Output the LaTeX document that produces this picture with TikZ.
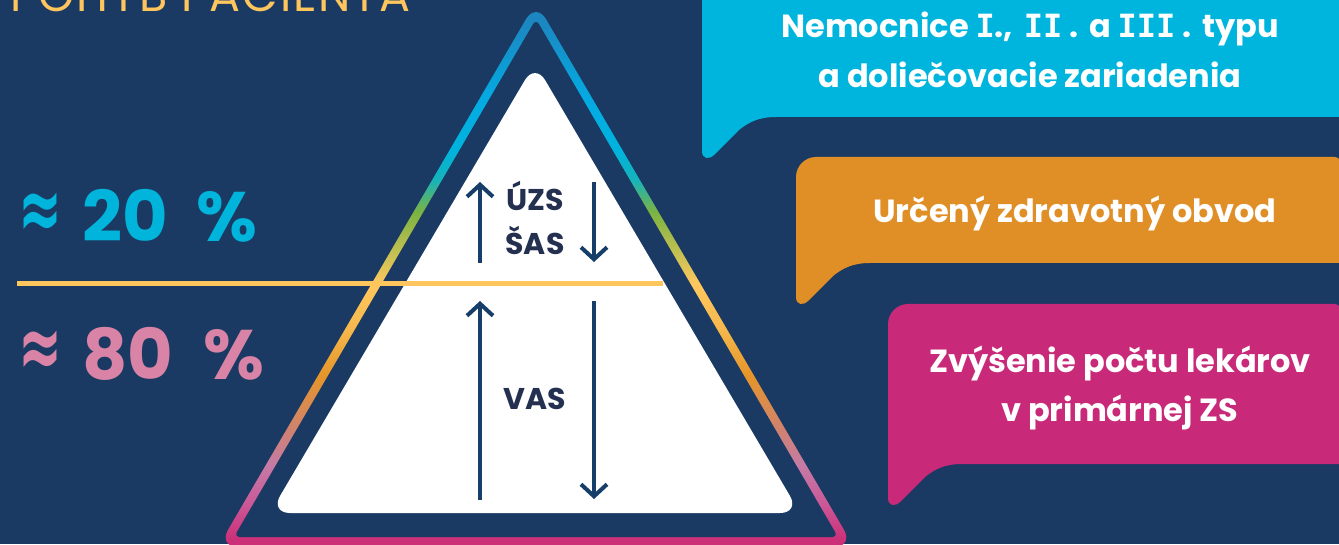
\documentclass[tikz,border=0pt]{standalone}
\usepackage{fontspec}
\usetikzlibrary{arrows.meta}
\newfontfamily\pop{Poppins}
\newfontfamily\popwide{Poppins}[LetterSpace=4]
\newfontfamily\djv{DejaVu Sans}
\newfontfamily\djm{DejaVu Sans Mono}
\definecolor{bg}{HTML}{1B3A63}
\definecolor{cyanb}{HTML}{00B5DD}
\definecolor{orangeb}{HTML}{E08F26}
\definecolor{magb}{HTML}{C82A79}
\definecolor{yline}{HTML}{FFC65E}
\definecolor{cyantxt}{HTML}{00B4DB}
\definecolor{pinktxt}{HTML}{D984A6}
\definecolor{pyrtxt}{HTML}{243050}
\definecolor{arrowc}{HTML}{173D69}
\definecolor{gm}{HTML}{CB3078}
\definecolor{gpk}{HTML}{CA5C9A}
\definecolor{gmv}{HTML}{C57BA5}
\definecolor{gsa}{HTML}{D08270}
\definecolor{gor}{HTML}{E5952A}
\definecolor{glo}{HTML}{F5B84C}
\definecolor{gye}{HTML}{FFC85F}
\definecolor{gol}{HTML}{B5BE4F}
\definecolor{ggr}{HTML}{7CB342}
\definecolor{gte}{HTML}{16B3BA}
\definecolor{gcy}{HTML}{00B3DD}
\definecolor{gcb}{HTML}{04ABE3}
\definecolor{gbl}{HTML}{1C86C0}
\pgfdeclareverticalshading{trigrad}{100bp}{color(0bp)=(gm); color(25.4bp)=(gm); color(29bp)=(gpk); color(32.3bp)=(gmv); color(35.5bp)=(gsa); color(40.5bp)=(gor); color(44.7bp)=(glo); color(48.9bp)=(gye); color(52.5bp)=(gol); color(55.5bp)=(ggr); color(58.5bp)=(gte); color(61.2bp)=(gcy); color(65.8bp)=(gcb); color(73.2bp)=(gbl); color(100bp)=(gbl)}
\newcommand\slabI{{\djm\bfseries I}}
\newcommand\apx{\raisebox{2pt}{\scalebox{1.05}[1.8]{\djv\bfseries\fontsize{50}{50}\selectfont ≈}}}
\newcommand\bubblepath[4]{% x0, bottom, top, colour
  \fill[#4] (1340,#2) -- ({#1+74},#2) .. controls ({#1+57},#2) and ({#1+47},{#2-5}) .. ({#1+37},{#2-13})
   -- ({#1+12},{#2-38}) .. controls ({#1+7},{#2-43}) and (#1,{#2-42}) .. (#1,{#2-34})
   -- (#1,{#3-20}) .. controls (#1,{#3-9}) and ({#1+9},#3) .. ({#1+20},#3)
   -- (1334,#3) .. controls (1338,#3) and (1340,{#3-2}) .. (1340,{#3-6}) -- cycle;}
\tikzset{
  bubtxt/.style={anchor=base, text=white, font=\pop\bfseries\fontsize{32}{40}\selectfont, inner sep=0pt},
  pyrtext/.style={anchor=base, text=pyrtxt, font=\pop\bfseries\fontsize{30}{34}\selectfont, inner sep=0pt},
  pct/.style={anchor=base west, font=\pop\bfseries\fontsize{70}{80}\selectfont, inner sep=0pt},
  parrow/.style={draw=arrowc, line width=4pt, -{Straight Barb[length=12pt, width=26pt]}}
}
\begin{document}
\begin{tikzpicture}[x=1pt,y=1pt]
\useasboundingbox (0,0) rectangle (1339,544);
\clip (0,0) rectangle (1339,544);
\fill[bg] (0,0) rectangle (1339,544);
% title
\node[anchor=base west, inner sep=0pt, text=yline, font=\popwide\fontsize{46}{50}\selectfont] (title) at (10,532) {POHYB PACIENTA};
% bubbles
\bubblepath{702}{427}{580}{cyanb}
\bubblepath{796}{281}{387}{orangeb}
\bubblepath{888}{80}{240}{magb}
\node[bubtxt] (b1a) at (1030,506) {Nemocnice \slabI.,\hspace{4pt} \slabI\slabI\hspace{7pt}.\hspace{4pt} a \slabI\slabI\slabI\hspace{7pt}.\hspace{4pt} typu};
\node[bubtxt] (b1b) at (1030,456) {a doliečovacie zariadenia};
\node[bubtxt] (b2) at (1075,321) {Určený zdravotný obvod};
\node[bubtxt] (b3a) at (1120,171) {Zvýšenie počtu lekárov};
\node[bubtxt] (b3b) at (1120,122) {v primárnej ZS};
% gradient outer triangle ring
\begin{scope}
\clip[rounded corners=20] (536,542) -- (854,-3) -- (218,-3) -- cycle;
\shade[shading=trigrad] (200,0) rectangle (880,544);
\end{scope}
\fill[bg, rounded corners=6] (536,525) -- (838,7) -- (234,7) -- cycle;
% white triangle
\fill[white, rounded corners=20] (535,481) -- (800,31) -- (270,31) -- cycle;
% divider line
\coordinate (l1) at (17,260);
\coordinate (l2) at (663,260);
\draw[yline, line width=5pt] (l1) -- (l2);
% arrows
\coordinate (a1s) at (480,281); \coordinate (a1e) at (480,362);
\coordinate (a2s) at (594,362); \coordinate (a2e) at (594,282);
\coordinate (a3s) at (480,44);  \coordinate (a3e) at (480,243);
\coordinate (a4s) at (594,243); \coordinate (a4e) at (594,45);
\draw[parrow] (a1s) -- (a1e);
\draw[parrow] (a2s) -- (a2e);
\draw[parrow] (a3s) -- (a3e);
\draw[parrow] (a4s) -- (a4e);
% pyramid labels
\node[pyrtext] (uzs) at (535,333) {ÚZS};
\node[pyrtext] (sas) at (535,289) {ŠAS};
\node[pyrtext] (vas) at (535,134) {VAS};
% percentages
\node[pct, text=cyantxt] (p20) at (18,302) {\apx\hspace{20pt}20\hspace{14pt} \%};
\node[pct, text=pinktxt] (p80) at (18,164) {\apx\hspace{20pt}80\hspace{16pt} \%};
\end{tikzpicture}
\end{document}
